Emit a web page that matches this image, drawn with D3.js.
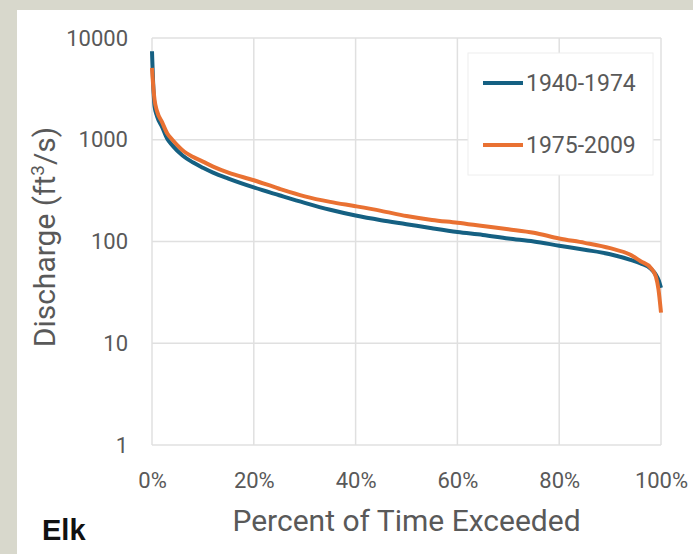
<!DOCTYPE html>
<html>
<head>
<meta charset="utf-8">
<script src="https://cdn.jsdelivr.net/npm/d3@7"></script>
<style>
    body { margin: 0; background: #d8d8cc; }
    #chart { width: 693px; height: 554px; }
    .axis text { font-family: Roboto, "Liberation Sans", sans-serif; fill: #595959; }
    .title { font-family: Roboto, "Liberation Sans", sans-serif; fill: #595959; }
</style>
</head>
<body>
<div id="chart"></div>
<script>

// percent of time exceeded
const pctExceeded = [0, 0.3, 0.5, 1, 2, 3, 4, 6, 8, 10, 12, 15, 20, 25, 30, 35, 40, 45, 50,
    55, 60, 65, 70, 75, 80, 85, 90, 94, 96, 98, 99, 99.5, 100];

// discharge (ft3/s)
const flow1940 = [7400, 3000, 2130, 1700, 1330, 1020, 880, 700, 600, 530, 475, 415, 340, 285, 240, 205, 180, 162, 148,
    135, 124, 116, 107, 100, 91, 83, 75, 66, 61, 54, 47, 42, 35];
const flow1975 = [5100, 3100, 2470, 1900, 1480, 1150, 1000, 790, 680, 610, 545, 475, 400, 330, 278, 245, 222, 200, 178,
    163, 153, 142, 132, 122, 107, 97, 86, 74, 64, 55, 45, 34, 20];

const seriesNames = ["1940-1974", "1975-2009"];
const seriesColors = ["#156082", "#e97132"];
const yTicks = [1, 10, 100, 1000, 10000];
const xTicks = [0, 20, 40, 60, 80, 100];
const stationName = "Elk";


class FlowDuration {

    constructor(_parentElement) {
        this.parentElement = _parentElement;
        this.series = [flow1940, flow1975].map((vals, i) => ({
            name: seriesNames[i],
            color: seriesColors[i],
            values: pctExceeded.map((p, j) => ({ p: p, q: vals[j] }))
        }));
        this.initVis();
    }

    initVis() {
        let vis = this;

        vis.margin = { top: 38, right: 32, bottom: 109, left: 152 };
        vis.width = 693 - vis.margin.left - vis.margin.right;
        vis.height = 554 - vis.margin.top - vis.margin.bottom;

        vis.root = d3.select("#" + vis.parentElement).append("svg")
            .attr("width", 693)
            .attr("height", 554);

        // white panel on the beige page
        vis.root.append("rect")
            .attr("x", 17)
            .attr("y", 10)
            .attr("width", 693 - 17)
            .attr("height", 554 - 10)
            .attr("fill", "#fff");

        vis.svg = vis.root.append("g")
            .attr("transform", "translate(" + vis.margin.left + "," + vis.margin.top + ")");

        vis.x = d3.scaleLinear()
            .domain([0, 100])
            .range([0, vis.width]);

        vis.y = d3.scaleLog()
            .domain([1, 10000])
            .range([vis.height, 0]);

        // gridlines
        vis.svg.append("g")
            .selectAll("line.hgrid")
            .data(yTicks)
            .enter().append("line")
            .attr("x1", 0)
            .attr("x2", vis.width)
            .attr("y1", d => vis.y(d))
            .attr("y2", d => vis.y(d))
            .attr("stroke", "#e0e0e0")
            .attr("stroke-width", 1.5);

        vis.svg.append("g")
            .selectAll("line.vgrid")
            .data(xTicks)
            .enter().append("line")
            .attr("x1", d => vis.x(d))
            .attr("x2", d => vis.x(d))
            .attr("y1", 0)
            .attr("y2", vis.height)
            .attr("stroke", "#e0e0e0")
            .attr("stroke-width", 1.5);

        // axes (labels only)
        vis.xAxis = d3.axisBottom(vis.x)
            .tickValues(xTicks)
            .tickSize(0)
            .tickPadding(27)
            .tickFormat(d => d + "%");

        vis.yAxis = d3.axisLeft(vis.y)
            .tickValues(yTicks)
            .tickSize(0)
            .tickPadding(24)
            .tickFormat(d3.format("d"));

        vis.svg.append("g")
            .attr("class", "x-axis axis")
            .attr("transform", "translate(0," + vis.height + ")")
            .call(vis.xAxis)
            .call(g => g.select(".domain").remove())
            .selectAll("text")
            .style("font-size", "22px");

        vis.svg.append("g")
            .attr("class", "y-axis axis")
            .call(vis.yAxis)
            .call(g => g.select(".domain").remove())
            .selectAll("text")
            .style("font-size", "22px");

        // axis titles
        vis.svg.append("text")
            .attr("class", "title")
            .attr("x", vis.width / 2)
            .attr("y", vis.height + 86)
            .style("text-anchor", "middle")
            .style("font-size", "30px")
            .text("Percent of Time Exceeded");

        let yTitle = vis.svg.append("text")
            .attr("class", "title")
            .attr("transform", "translate(-97,199) rotate(-90)")
            .style("text-anchor", "middle")
            .style("font-size", "30px");
        yTitle.append("tspan").text("Discharge (ft");
        yTitle.append("tspan").attr("dy", -11).style("font-size", "19px").text("3");
        yTitle.append("tspan").attr("dy", 11).text("/s)");

        // station label
        vis.root.append("text")
            .attr("x", 42)
            .attr("y", 540)
            .style("font-family", "'Liberation Sans', Arial, sans-serif")
            .style("font-weight", "bold")
            .style("font-size", "29px")
            .attr("fill", "#111")
            .text(stationName);

        vis.updateVis();
    }

    updateVis() {
        let vis = this;

        vis.line = d3.line()
            .curve(d3.curveMonotoneX)
            .x(d => vis.x(d.p))
            .y(d => vis.y(d.q));

        vis.svg.selectAll(".flow-line")
            .data(vis.series)
            .enter().append("path")
            .attr("class", "flow-line")
            .attr("fill", "none")
            .attr("stroke", d => d.color)
            .attr("stroke-width", 4)
            .attr("stroke-linejoin", "round")
            .attr("d", d => vis.line(d.values));

        // legend
        let legend = vis.root.append("g")
            .attr("transform", "translate(468,53)");

        legend.append("rect")
            .attr("width", 185)
            .attr("height", 122)
            .attr("fill", "#fff")
            .attr("stroke", "#eeeeee");

        let items = legend.selectAll(".legend-item")
            .data(vis.series)
            .enter().append("g")
            .attr("class", "legend-item")
            .attr("transform", (d, i) => "translate(15," + (30 + i * 62) + ")");

        items.append("line")
            .attr("x1", 0)
            .attr("x2", 40)
            .attr("stroke", d => d.color)
            .attr("stroke-width", 4);

        items.append("text")
            .attr("x", 43)
            .attr("dy", "0.35em")
            .style("font-family", "Roboto, 'Liberation Sans', sans-serif")
            .style("font-size", "23px")
            .attr("fill", "#595959")
            .text(d => d.name);
    }
}

new FlowDuration("chart");

</script>
</body>
</html>
